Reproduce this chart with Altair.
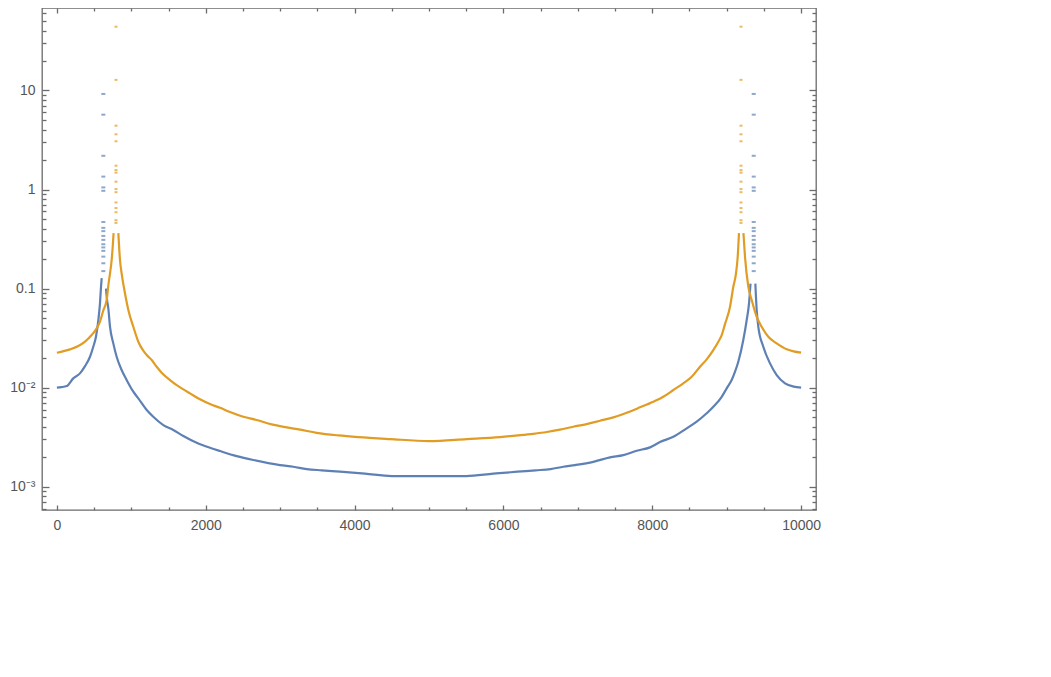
import altair as alt
import pandas as pd

# ---- data (x, value); seg = branch of the curve ----
BLUE_X = [0, 60, 132, 220, 310, 378, 445, 489, 525, 557, 579, 593, 602,
          660, 675, 691, 714, 758, 803, 870, 938, 1027, 1094, 1207, 1295, 1430, 1564, 1699,
          1878, 2057, 2192, 2416, 2640, 2998, 3177, 3357, 3558, 3804, 4140, 4500, 5000,
          5500, 5864, 6187, 6434, 6635, 6805, 6962, 7208, 7432, 7611, 7791, 7970, 8104,
          8283, 8463, 8597, 8731, 8843, 8933, 9000, 9067, 9112, 9156, 9223, 9269, 9300, 9320,
          9385, 9403, 9425, 9492, 9582, 9672, 9784, 9900, 10000]
BLUE_Y = [0.0100, 0.0101, 0.01035, 0.01239, 0.01390, 0.01648, 0.02046, 0.02582, 0.03258,
          0.04808, 0.07079, 0.1047, 0.1276,
          0.100, 0.0759, 0.0631, 0.0411, 0.02793, 0.02046, 0.01503, 0.01191, 0.009078,
          0.007780, 0.005929, 0.005070, 0.004178, 0.003724, 0.003236, 0.002767, 0.002466,
          0.002286, 0.002032, 0.001854, 0.001648, 0.001585, 0.001503, 0.001459, 0.001413,
          0.001349, 0.001276, 0.001276, 0.001276, 0.001349, 0.001413, 0.001459, 0.001503,
          0.001585, 0.001648, 0.001778, 0.001972, 0.002080, 0.002301, 0.002489, 0.002818,
          0.003184, 0.003873, 0.004519, 0.005495, 0.006653, 0.008072, 0.009817, 0.01191,
          0.01445, 0.01820, 0.03020, 0.04808, 0.07079, 0.1122,
          0.1122, 0.0607, 0.0411, 0.02582, 0.01754, 0.01337, 0.01104, 0.01023, 0.0100]
BLUE_SEG = [0] * 13 + [1] * 55 + [2] * 9

ORANGE_X = [0, 176, 288, 378, 467, 535, 579, 624, 669, 691, 714, 736, 750, 762,
            826, 848, 870, 915, 960, 1027, 1094, 1161, 1207, 1274, 1341, 1408, 1520, 1610,
            1699, 1789, 1923, 2057, 2192, 2326, 2505, 2685, 2886, 3088, 3267, 3491, 3781,
            4050, 4476, 5000, 5506, 5954, 6200, 6402, 6582, 6760, 6939, 7119, 7298, 7477,
            7657, 7835, 8014, 8148, 8283, 8417, 8530, 8641, 8731, 8820, 8888, 8933, 8977,
            9045, 9089, 9125, 9148, 9165,
            9225, 9246, 9291, 9336, 9403, 9470, 9559, 9672, 9807, 9900, 10000]
ORANGE_Y = [0.02249, 0.02432, 0.02624, 0.02904, 0.03388, 0.03963, 0.04624, 0.06026,
            0.07656, 0.1072, 0.1422, 0.1941, 0.2630, 0.3631,
            0.3631, 0.1941, 0.1422, 0.08954, 0.06067, 0.04111, 0.02904, 0.02355, 0.02128,
            0.01897, 0.01622, 0.01413, 0.01191, 0.01059, 0.009594, 0.008730, 0.007603,
            0.006808, 0.006252, 0.005662, 0.005070, 0.004699, 0.004246, 0.003963, 0.003758,
            0.003491, 0.003289, 0.003162, 0.003020, 0.002884, 0.003020, 0.003162, 0.003289,
            0.003412, 0.003556, 0.003758, 0.004018, 0.004276, 0.004624, 0.005000, 0.005572,
            0.006310, 0.007194, 0.008072, 0.009441, 0.01104, 0.01285, 0.01622, 0.01928,
            0.02393, 0.02904, 0.03388, 0.04365, 0.06546, 0.1042, 0.1422, 0.2094, 0.3631,
            0.3631, 0.2094, 0.1042, 0.07656, 0.05188, 0.04111, 0.03258, 0.02793, 0.02432,
            0.02317, 0.02249]
ORANGE_SEG = [0] * 14 + [1] * 58 + [2] * 11

# isolated points of the resonance spikes
BLUE_SPIKE_X = [624, 9363]
BLUE_SPIKE_Y = [9.23, 5.70, 2.19, 1.35, 1.05, 0.97, 0.47, 0.41, 0.38, 0.34, 0.31,
                0.28, 0.26, 0.24, 0.21, 0.18, 0.15]
ORANGE_SPIKE_X = [794, 9192]
ORANGE_SPIKE_Y = [44.1, 12.8, 4.41, 3.61, 3.07, 1.74, 1.57, 1.48, 1.20, 1.01, 0.94,
                  0.74, 0.65, 0.59, 0.49, 0.46]

# ticks
X_MAJOR = [0, 2000, 4000, 6000, 8000, 10000]
X_MINOR = [500, 1000, 1500, 2500, 3000, 3500, 4500, 5000, 5500, 6500, 7000, 7500,
           8500, 9000, 9500]
Y_MAJOR = [0.001, 0.01, 0.1, 1, 10]
Y_LABELS = ["10\u207b\u00b3", "10\u207b\u00b2", "0.1", "1", "10"]
Y_MINOR = [0.0006, 0.0007, 0.0008, 0.0009,
           0.002, 0.003, 0.004, 0.005, 0.006, 0.007, 0.008, 0.009,
           0.02, 0.03, 0.04, 0.05, 0.06, 0.07, 0.08, 0.09,
           0.2, 0.3, 0.4, 0.5, 0.6, 0.7, 0.8, 0.9,
           2, 3, 4, 5, 6, 7, 8, 9,
           20, 30, 40, 50, 60]

BLUE = "#5E81B5"
ORANGE = "#E19C24"
FRAME = "#6b6b6b"

blue_df = pd.DataFrame({"x": BLUE_X, "y": BLUE_Y, "seg": BLUE_SEG})
orange_df = pd.DataFrame({"x": ORANGE_X, "y": ORANGE_Y, "seg": ORANGE_SEG})
blue_spk = pd.DataFrame([{"x": sx, "y": sy} for sx in BLUE_SPIKE_X for sy in BLUE_SPIKE_Y])
orange_spk = pd.DataFrame([{"x": sx, "y": sy} for sx in ORANGE_SPIKE_X for sy in ORANGE_SPIKE_Y])

xs = alt.Scale(domain=[-200, 10200], nice=False, zero=False)
ys = alt.Scale(type="log", domain=[5.8e-4, 68.1], nice=False)

label_expr = ""
for v, lab in zip(Y_MAJOR, Y_LABELS):
    label_expr += f"abs(datum.value - {v}) < {v * 1e-6} ? '{lab}' : "
label_expr += "''"

common = dict(domain=False, grid=False, tickColor=FRAME, tickWidth=1.3, title=None,
              labelFont="Liberation Sans", labelFontSize=14, labelColor="#555555")


def ax(orient, values, size, labels=False, **kw):
    return alt.Axis(orient=orient, values=values, tickSize=size, offset=-size,
                    labels=labels, **common, **kw)


blue_line = alt.Chart(blue_df).mark_line(color=BLUE, strokeWidth=2.2,
                                         interpolate="monotone").encode(
    x=alt.X("x:Q", scale=xs, axis=ax("bottom", X_MAJOR, 5, labels=True,
                                      format="d", labelPadding=8)),
    y=alt.Y("y:Q", scale=ys, axis=ax("left", Y_MAJOR, 7, labels=True,
                                      labelExpr=label_expr, labelPadding=7)),
    detail="seg:N",
)
orange_line = alt.Chart(orange_df).mark_line(color=ORANGE, strokeWidth=2.2,
                                             interpolate="monotone").encode(
    x=alt.X("x:Q", scale=xs, axis=None),
    y=alt.Y("y:Q", scale=ys, axis=None),
    detail="seg:N",
)
blue_dots = alt.Chart(blue_spk).mark_tick(color=BLUE, orient="horizontal", size=4,
                                         thickness=2).encode(
    x=alt.X("x:Q", scale=xs, axis=None), y=alt.Y("y:Q", scale=ys, axis=None))
orange_dots = alt.Chart(orange_spk).mark_tick(color=ORANGE, orient="horizontal", size=3,
                                             thickness=2).encode(
    x=alt.X("x:Q", scale=xs, axis=None), y=alt.Y("y:Q", scale=ys, axis=None))


def axis_layer(xaxis, yaxis):
    return alt.Chart(blue_df).mark_point(opacity=0).encode(
        x=alt.X("x:Q", scale=xs, axis=xaxis), y=alt.Y("y:Q", scale=ys, axis=yaxis))


minor_bl = axis_layer(ax("bottom", X_MINOR, 3), ax("left", Y_MINOR, 4))
major_tr = axis_layer(ax("top", X_MAJOR, 5), ax("right", Y_MAJOR, 7))
minor_tr = axis_layer(ax("top", X_MINOR, 3), ax("right", Y_MINOR, 4))

chart = alt.layer(
    minor_bl, major_tr, minor_tr, blue_line, blue_dots, orange_line, orange_dots
).resolve_axis(x="independent", y="independent").properties(
    width=774, height=502,
    autosize=alt.AutoSizeParams(type="none"),
    padding={"left": 34, "top": 0, "right": 20, "bottom": 30},
).configure_view(stroke=FRAME, strokeWidth=1.3)

chart.save("out.html", embed_options={"renderer": "svg", "actions": False})
